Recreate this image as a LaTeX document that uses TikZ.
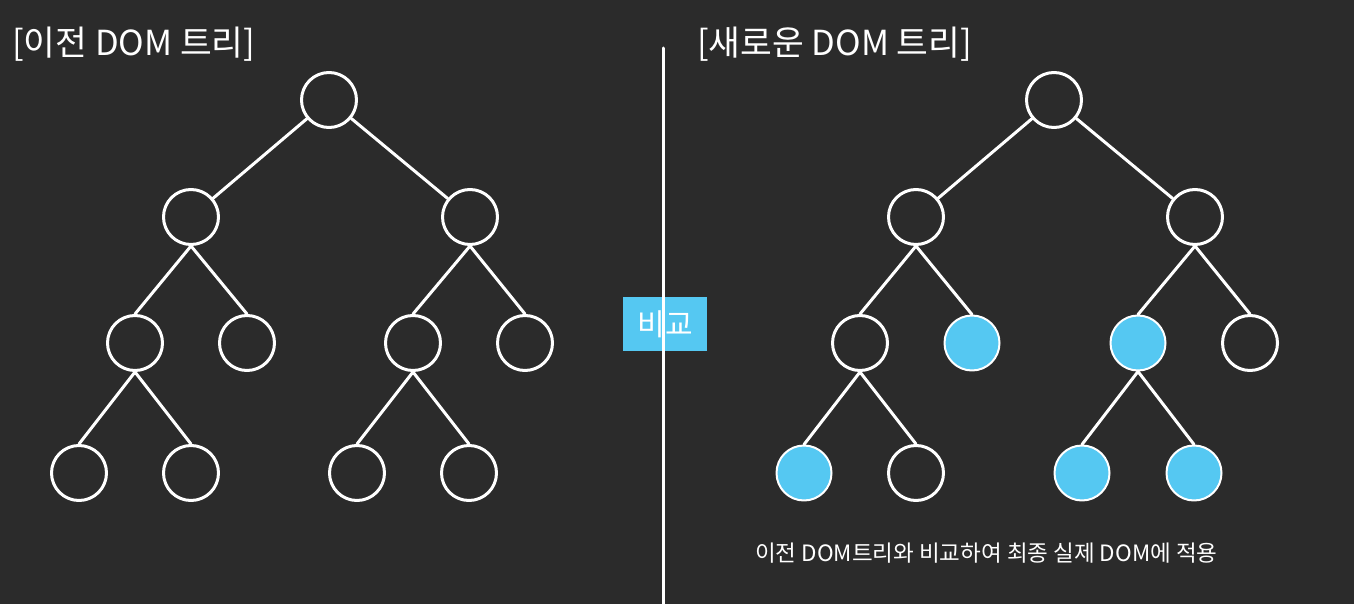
\documentclass[tikz,border=0pt]{standalone}
\usepackage{fontspec}
\setmainfont{Noto Sans CJK KR}
\definecolor{bgdark}{HTML}{2B2B2B}
\definecolor{skyblue}{HTML}{55C8F2}
\begin{document}
\begin{tikzpicture}[x=1pt, y=-1pt, line cap=round, line join=round,
		nut/.style={circle, draw=white, line width=3pt, minimum size=55pt, inner sep=0pt},
		nutmoi/.style={nut, fill=skyblue, line width=2pt},
		canh/.style={white, line width=3pt},
		chu/.style={white, inner sep=0pt}]
				% Nền tối
				\fill[bgdark] (0,0) rectangle (1354,604);
				\useasboundingbox (0,0) rectangle (1354,604);
				
				% Tiêu đề
				\node[chu, anchor=west, font=\fontsize{34.5}{38}\selectfont] (cu) at (12,44) {[이전 DOM 트리]};
				\node[chu, anchor=west, font=\fontsize{34.5}{38}\selectfont] (moi) at (697,44) {[새로운 DOM 트리]};
				
				% Cây cũ
				\node[nut] (A) at (329,100) {};
				\node[nut] (B) at (191,217) {};
				\node[nut] (C) at (470,217) {};
				\node[nut] (D) at (135,343) {};
				\node[nut] (E) at (247,343) {};
				\node[nut] (F) at (413,343) {};
				\node[nut] (G) at (525,343) {};
				\node[nut] (H) at (79,473) {};
				\node[nut] (I) at (191,473) {};
				\node[nut] (J) at (357,473) {};
				\node[nut] (K) at (469,473) {};
				\draw[canh] (A) -- (B);
				\draw[canh] (A) -- (C);
				\draw[canh] (B.south) -- (D.north);
				\draw[canh] (B.south) -- (E.north);
				\draw[canh] (C.south) -- (F.north);
				\draw[canh] (C.south) -- (G.north);
				\draw[canh] (D.south) -- (H.north);
				\draw[canh] (D.south) -- (I.north);
				\draw[canh] (F.south) -- (J.north);
				\draw[canh] (F.south) -- (K.north);
				
				% Cây mới
				\node[nut] (a) at (1054,100) {};
				\node[nut] (b) at (916,217) {};
				\node[nut] (c) at (1195,217) {};
				\node[nut] (d) at (860,343) {};
				\node[nutmoi] (e) at (972,343) {};
				\node[nutmoi] (f) at (1138,343) {};
				\node[nut] (g) at (1250,343) {};
				\node[nutmoi] (h) at (804,473) {};
				\node[nut] (i) at (916,473) {};
				\node[nutmoi] (j) at (1082,473) {};
				\node[nutmoi] (k) at (1194,473) {};
				\draw[canh] (a) -- (b);
				\draw[canh] (a) -- (c);
				\draw[canh] (b.south) -- (d.north);
				\draw[canh] (b.south) -- (e.north);
				\draw[canh] (c.south) -- (f.north);
				\draw[canh] (c.south) -- (g.north);
				\draw[canh] (d.south) -- (h.north);
				\draw[canh] (d.south) -- (i.north);
				\draw[canh] (f.south) -- (j.north);
				\draw[canh] (f.south) -- (k.north);
				
				% Đường chia và ô so sánh
				\node[fill=skyblue, minimum width=84pt, minimum height=54pt, inner sep=0pt] (hop) at (665,324) {};
				\coordinate (tren) at (663,48);
				\coordinate (duoi) at (663,604);
				\draw[canh] (tren) -- (duoi);
				\node[chu, font=\fontsize{30}{33}\selectfont] (sosanh) at (hop) {비교};
				
				% Ghi chú
				\node[chu, anchor=west, font=\fontsize{22.5}{26}\selectfont] (ghichu) at (755,553) {이전 DOM트리와 비교하여 최종 실제 DOM에 적용};
		\end{tikzpicture}
\end{document}
